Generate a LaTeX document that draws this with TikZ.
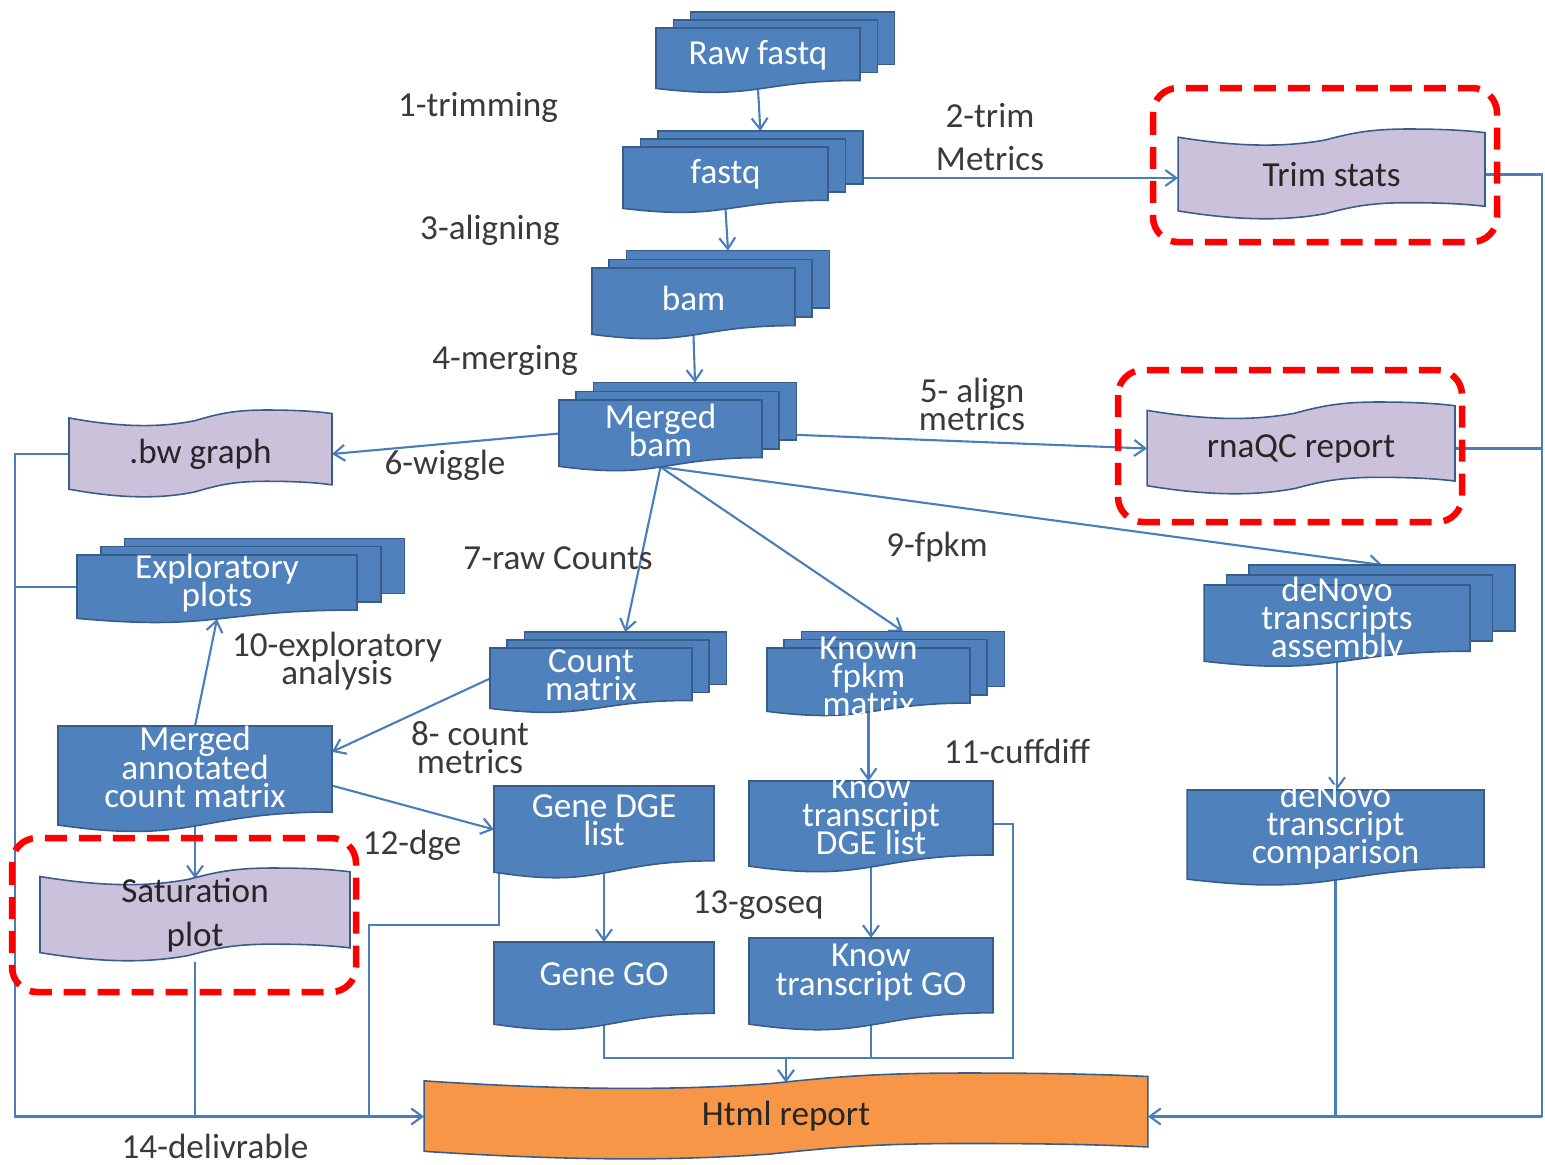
\documentclass[tikz,border=0pt]{standalone}
\usepackage{fontspec}
\setmainfont{Carlito}
\usetikzlibrary{arrows.meta,calc}

\definecolor{boxblue}{HTML}{4F81BD}
\definecolor{boxline}{HTML}{385D8A}
\definecolor{lineblue}{HTML}{4A7EBB}
\definecolor{lilac}{HTML}{CCC1DA}
\definecolor{orng}{HTML}{F79646}
\definecolor{inkgray}{HTML}{3A3A3A}

\pgfdeclarelayer{links}
\pgfdeclarelayer{sheets}
\pgfsetlayers{links,sheets,main}

\newcommand{\tightfont}{\fontsize{20}{16}\selectfont\lineskiplimit=-50pt\lineskip=0pt}

\tikzset{
  inbox/.style={shift={(#1.south west)},
    x={($(#1.south east)-(#1.south west)$)},
    y={($(#1.north west)-(#1.south west)$)}},
  sheetfill/.style={fill=boxblue, draw=boxline, line width=0.9pt},
  holder/.style={inner sep=0pt, outer sep=0pt},
  wtext/.style={text=white, align=center, font=\tightfont},
  mtext/.style={wtext, yshift=0.07cm},
  dtext/.style={wtext, yshift=0.18cm},
  ptext/.style={text=black!85, align=center, font=\tightfont},
  lbl/.style={text=inkgray, align=center, inner sep=0pt, font=\tightfont},
  conn/.style={draw=lineblue, line width=1.2pt},
  connarr/.style={conn, -{Straight Barb[length=0.22cm, width=0.32cm, line width=1.2pt]}},
  redframe/.style={draw=red, line width=0.13cm, dash pattern=on 0.44cm off 0.24cm, rounded corners=0.5cm}
}

% sheet with wavy bottom edge
\newcommand{\docpath}{(0,1) -- (1,1) -- (1,0.14) .. controls (0.5,0.14) and (0.5,-0.19) .. (0,0.01) -- cycle}
\newcommand{\wavedoc}[1]{%
  \begin{scope}[inbox=#1]
    \filldraw[sheetfill] \docpath;
  \end{scope}}
% three stacked sheets
\newcommand{\multidoc}[1]{%
  \begin{scope}[inbox=#1]
    \foreach \k in {2,1}
      \filldraw[sheetfill] (0.085*\k,0.14+0.13*\k) rectangle (1+0.085*\k,1+0.13*\k);
    \filldraw[sheetfill] \docpath;
    \coordinate (#1-top) at (0.67,1.26);
  \end{scope}}
% tape, wavy at top and bottom
\newcommand{\tapeshape}[2]{%
  \begin{scope}[inbox=#1]
    \filldraw[fill=#2, draw=boxline, line width=0.9pt]
      (0,0.91) .. controls (0.2,0.8) and (0.35,0.8) .. (0.48,0.88)
      .. controls (0.56,0.95) and (0.62,1) .. (0.75,1)
      .. controls (0.88,1) and (0.95,0.98) .. (1,0.96) -- (1,0.15)
      .. controls (0.95,0.17) and (0.88,0.19) .. (0.75,0.19)
      .. controls (0.62,0.19) and (0.56,0.14) .. (0.48,0.07)
      .. controls (0.35,-0.01) and (0.2,-0.01) .. (0,0.1) -- cycle;
    \coordinate (#1-top) at (0.5,0.89);
  \end{scope}}

\begin{document}
\begin{tikzpicture}[x=0.02cm, y=-0.02cm]
\useasboundingbox (0,0) rectangle (1545,1164);

% stacked files
\node[holder, minimum width=4.08cm, minimum height=1.22cm, label={[mtext]center:Raw fastq}] (raw) at (758,58.5) {};
\node[holder, minimum width=4.1cm, minimum height=1.24cm, label={[mtext]center:fastq}] (fastq) at (725.5,178) {};
\node[holder, minimum width=4.06cm, minimum height=1.34cm, label={[mtext]center:bam}] (bam) at (693.5,301.5) {};
\node[holder, minimum width=4.06cm, minimum height=1.34cm, label={[mtext]center:{Merged\\bam}}] (mbam) at (660.5,433.5) {};
\node[holder, minimum width=5.6cm, minimum height=1.28cm, label={[mtext]center:{Exploratory\\plots}}] (explo) at (217,587) {};
\node[holder, minimum width=4.04cm, minimum height=1.22cm, label={[mtext]center:{Count\\matrix}}] (count) at (591,678.5) {};
\node[holder, minimum width=4.06cm, minimum height=1.28cm, label={[mtext]center:{Known\\fpkm\\matrix}}] (fpkm) at (868.5,680) {};
\node[holder, minimum width=5.32cm, minimum height=1.54cm, label={[mtext]center:{deNovo\\transcripts\\assembly}}] (asm) at (1337,623.5) {};

% single files
\node[holder, minimum width=5.48cm, minimum height=2cm, label={[dtext]center:{Merged\\annotated\\count matrix}}] (annot) at (195,776) {};
\node[holder, minimum width=4.4cm, minimum height=1.74cm, label={[dtext]center:{Gene DGE\\list}}] (gdge) at (604,829.5) {};
\node[holder, minimum width=4.88cm, minimum height=1.72cm, label={[dtext]center:{Know\\transcript\\DGE list}}] (kdge) at (871,824) {};
\node[holder, minimum width=5.94cm, minimum height=1.8cm, label={[dtext]center:{deNovo\\transcript\\comparison}}] (cmp) at (1335.5,835) {};
\node[holder, minimum width=4.4cm, minimum height=1.66cm, label={[dtext]center:Gene GO}] (ggo) at (604,983.5) {};
\node[holder, minimum width=4.88cm, minimum height=1.74cm, label={[dtext]center:{Know\\transcript GO}}] (kgo) at (871,981.5) {};

% reports
\node[holder, minimum width=6.14cm, minimum height=1.82cm, label={[ptext]center:Trim stats}] (trim) at (1331.5,174.5) {};
\node[holder, minimum width=6.16cm, minimum height=1.86cm, label={[ptext]center:rnaQC report}] (rnaqc) at (1301,448.5) {};
\node[holder, minimum width=5.26cm, minimum height=1.76cm, label={[ptext]center:.bw graph}] (bw) at (200.5,454) {};
\node[holder, minimum width=6.2cm, minimum height=1.88cm, label={[ptext, font=\fontsize{20}{25}\selectfont]center:{Saturation\\plot}}] (sat) at (195,915) {};
\node[holder, minimum width=14.48cm, minimum height=1.74cm, label={[ptext]center:Html report}] (html) at (786,1116.5) {};

\begin{pgfonlayer}{sheets}
\foreach \n in {raw,fastq,bam,mbam,explo,count,fpkm,asm} {\multidoc{\n}}
\foreach \n in {annot,gdge,kdge,cmp,ggo,kgo} {\wavedoc{\n}}
\tapeshape{trim}{lilac}
\tapeshape{rnaqc}{lilac}
\tapeshape{bw}{lilac}
\tapeshape{sat}{lilac}
\tapeshape{html}{orng}
\end{pgfonlayer}

% step labels
\node[lbl] (s1) at (478,107) {1-trimming};
\node[lbl, font=\fontsize{20}{24.4}\selectfont] (s2) at (990,137) {2-trim\\Metrics};
\node[lbl] (s3) at (490,230) {3-aligning};
\node[lbl] (s4) at (505,360) {4-merging};
\node[lbl] (s5) at (972,404) {5- align\\metrics};
\node[lbl] (s6) at (445,465) {6-wiggle};
\node[lbl] (s7) at (558,558) {7-raw Counts};
\node[lbl] (s8) at (470,748) {8- count\\metrics};
\node[lbl] (s9) at (937,547) {9-fpkm};
\node[lbl] (s10) at (337,661) {10-exploratory\\analysis};
\node[lbl] (s11) at (1017,751) {11-cuffdiff};
\node[lbl] (s12) at (412,845) {12-dge};
\node[lbl] (s13) at (758,905) {13-goseq};
\node[lbl] (s14) at (215,1146) {14-delivrable};

\begin{pgfonlayer}{links}
\draw[connarr] (raw.south) -- (fastq-top);
\draw[connarr] (fastq.east) -- (fastq.east -| trim.west);
\draw[connarr] (fastq.south) -- (bam-top);
\draw[connarr] (bam.south) -- (mbam-top);
\draw[connarr] (mbam.east) -- (rnaqc.west);
\draw[connarr] (mbam.west) -- (bw.east);
\draw[connarr] (mbam.south) -- (count-top);
\draw[connarr] (mbam.south) -- (fpkm-top);
\draw[connarr] (mbam.south) -- (asm-top);
\draw[connarr] (count.west) -- (annot.10);
\draw[connarr] (annot.north) -- (explo.south);
\draw[connarr] (annot.-4) -- (gdge.west);
\draw[connarr] (annot.south) -- (sat-top);
\draw[connarr] (fpkm.south) -- (fpkm.south |- kdge.north);
\draw[connarr] (asm.south) -- (asm.south |- cmp.north);
\draw[connarr] (gdge.south) -- (ggo.north);
\draw[connarr] (kdge.south) -- (kgo.north);
% everything ends in the report
\coordinate (bus) at (786,1058);
\coordinate (busr) at (1013,1058);
\coordinate (railL) at (15,1116.5);
\coordinate (railR) at (1542,1116.5);
\coordinate (cg) at (369,925);
\draw[conn] (ggo.south) |- (bus);
\draw[conn] (kgo.south) -- (kgo.south |- bus);
\draw[conn] (kdge.east) -| (busr) -- (bus);
\draw[connarr] (bus) -- (html-top);
\draw[connarr] (bw.west) -| (railL) -- (html.west);
\draw[conn] (explo.west) -- (explo.west -| railL);
\draw[conn] (sat.south) -- (sat.south |- railL);
\draw[conn] ([xshift=0.1cm]gdge.south west) |- (cg) -- (cg |- railL);
\draw[conn] (trim.east) -| (railR);
\draw[connarr] (railR) -- (html.east);
\draw[conn] (rnaqc.east) -- (rnaqc.east -| railR);
\draw[conn] (cmp.south) -- (cmp.south |- railR);
\end{pgfonlayer}

% highlighted outputs
\draw[redframe] (1153,88) rectangle (1497,242);
\draw[redframe] (1118,370) rectangle (1462,522);
\draw[redframe] (12,838) rectangle (356,992);
\end{tikzpicture}
\end{document}
